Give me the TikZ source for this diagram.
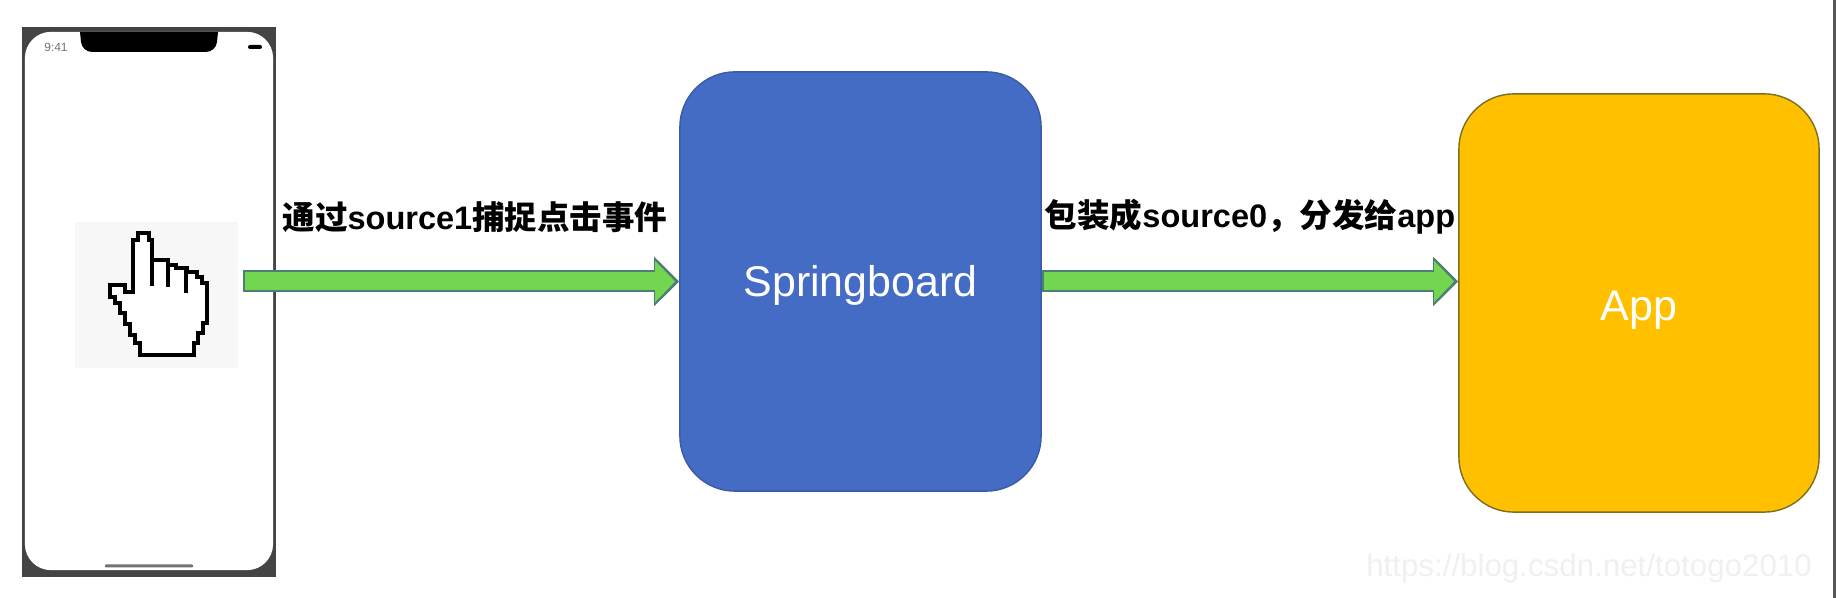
\documentclass[tikz,border=0pt]{standalone}
\usepackage{fontspec}
\setmainfont{Liberation Sans}
\newfontfamily\cjk{Noto Sans CJK SC}
\usetikzlibrary{arrows.meta,positioning,calc}
\definecolor{boardcolor}{RGB}{68,108,196}
\definecolor{appcolor}{RGB}{255,192,0}
\definecolor{flowcolor}{RGB}{114,214,80}
\definecolor{flowedge}{RGB}{78,124,118}
\definecolor{phonecolor}{RGB}{68,68,68}
\tikzset{
    boxnode/.style={rounded corners=0.55cm,text=white,font=\fontsize{12.2}{14}\selectfont,inner sep=0},
    flowarrow/.style={flowcolor,line width=0.18cm,shorten >=0.04cm,shorten <=0.02cm,
        -{Triangle[length=0.2cm,width=0.4cm]},
        preaction={draw=flowedge,line width=0.22cm,shorten >=0cm,shorten <=0cm,-{Triangle[length=0.25cm,width=0.48cm]}}},
    flowlabel/.style={font=\fontsize{9.25}{11}\selectfont\bfseries,inner sep=0},
}

\begin{document}
\begin{tikzpicture}[x=0.01cm,y=-0.01cm]
    \useasboundingbox (0,0) rectangle (1836,598);
    \fill[white] (0,0) rectangle (1836,598);
    \fill[phonecolor!90] (1833,0) rectangle (1836,598);

    % Phone
    \node[fill=phonecolor,minimum width=2.54cm,minimum height=5.5cm,inner sep=0] (phone) at (149,302) {};
    \node[fill=white,rounded corners=0.26cm,minimum width=2.48cm,minimum height=5.38cm,inner sep=0] (screen) at (149,301) {};
    \fill[black] (80,32) [rounded corners=0.1cm] -- (82,52) -- (216,52) [sharp corners] -- (218,32) -- cycle;
    \node[text=black!55,font=\fontsize{3.4}{4}\selectfont,inner sep=0] (clock) at (56,47) {9:41};
    \node[fill=black,rounded corners=0.02cm,minimum width=0.14cm,minimum height=0.04cm,inner sep=0] (battery) at (255,47) {};
    \node[fill=black!55,rounded corners=0.01cm,minimum width=0.88cm,minimum height=0.03cm,inner sep=0] (homebar) at (149,566) {};

    % Pointer hand
    \node[fill=black!3,minimum width=1.63cm,minimum height=1.46cm,inner sep=0] (hand) at (156.5,295) {};
    \draw[line width=0.04cm,fill=white,line join=miter] (133,292) -- (125,292) -- (125,285) -- (110,285) -- (110,297) -- (115,297) -- (115,303)
        -- (120,303) -- (120,313) -- (125,313) -- (125,324) -- (130,324) -- (130,335) -- (135,335) -- (135,343) -- (140,343) -- (140,355)
        -- (194,355) -- (194,343) -- (198,343) -- (198,333) -- (203,333) -- (203,323) -- (207,323) -- (207,283) -- (202,283) -- (202,277)
        -- (197,277) -- (197,272) -- (187,272) -- (187,268) -- (176,268) -- (176,265) -- (168,265) -- (168,260) -- (152,260) -- (152,240)
        -- (149,240) -- (149,233) -- (138,233) -- (138,240) -- (133,240) -- cycle;
    \foreach \fingerx/\fingertop/\fingerend in {152/260/286, 168/265/287, 186/270/293}{
        \draw[line width=0.04cm] (\fingerx,\fingertop) -- (\fingerx,\fingerend);
    }

    % Boxes
    \node[boxnode,fill=boardcolor,draw=boardcolor!85!black,text height=10.8pt,minimum width=3.61cm,minimum height=4.19cm] (board) at (860.5,281.5) {Springboard};
    \node[boxnode,draw=appcolor!55!black!70!flowedge,fill=appcolor,text height=12.6pt,minimum width=3.6cm,minimum height=4.18cm] (app) at (1639,303) {App};

    % Arrows
    \coordinate (tap) at (243,281.5);
    \draw[flowarrow] (tap) -- (board.west);
    \draw[flowarrow] (board.east) -- (board.east -| app.west);

    % Labels
    \node[flowlabel] (capture) at (475,217) {{\cjk 通过}source1{\cjk 捕捉点击事件}};
    \node[flowlabel] (dispatch) at (1250,217) {{\cjk 包装成}source0{\cjk ，分发给}app};
    \node[text=black!6,font=\fontsize{8.9}{11}\selectfont,inner sep=0] (watermark) at (1589,568) {https://blog.csdn.net/totogo2010};
\end{tikzpicture}
\end{document}
